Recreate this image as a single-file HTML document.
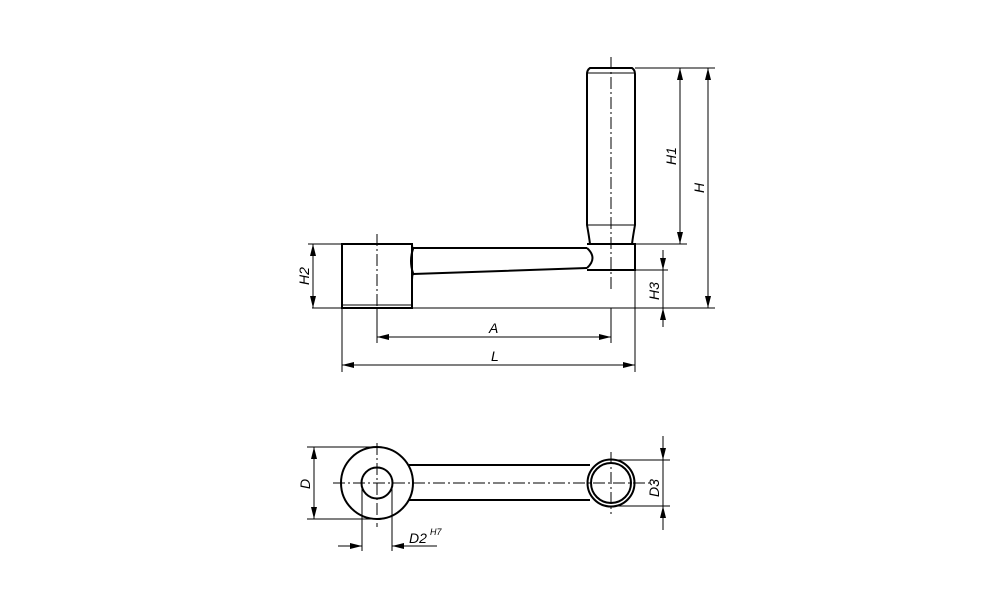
<!DOCTYPE html>
<html><head><style>body{margin:0;background:#fff}svg{display:block}text{font-family:"Liberation Sans",sans-serif;font-style:italic;font-size:14px;fill:#000}</style></head><body>
<svg width="1000" height="611" viewBox="0 0 1000 611" xmlns="http://www.w3.org/2000/svg">
<defs><marker id="a" markerWidth="12" markerHeight="6" refX="12" refY="3" orient="auto-start-reverse" markerUnits="userSpaceOnUse"><path d="M0,0 L12,3 L0,6z" fill="#000"/></marker></defs>
<g fill="none" stroke="#000" stroke-width="2">
<path d="M590,68 L632,68 Q635,70 635,74 L635,225 Q633,236 632,244 L590,244 Q589,236 587,225 L587,74 Q587,70 590,68Z"/>
<line x1="587" y1="225" x2="635" y2="225" stroke-width="1"/>
<line x1="587" y1="73" x2="635" y2="73" stroke-width="1"/>
<path d="M587,244 L635,244 L635,270 L587,270"/>
<path d="M587,248 Q598,258 587,268"/>
<path d="M413,248 L587,248 M413,274 L587,268"/>
<path d="M412,244 Q412,248 413,249 Q409,261 413,273 Q412,276 412,280"/>
<path d="M342,244 L412,244 L412,308 L342,308Z"/>
<line x1="342" y1="305" x2="412" y2="305" stroke-width="1"/>
<circle cx="377" cy="483" r="36"/>
<circle cx="377" cy="483" r="15.5"/>
<line x1="409" y1="465" x2="590" y2="465"/>
<line x1="409" y1="500" x2="590" y2="500"/>
<circle cx="611" cy="483" r="23.5" fill="#fff"/>
<circle cx="611" cy="483" r="20"/>
</g>
<g fill="none" stroke="#000" stroke-width="1">
<line x1="312" y1="308" x2="715" y2="308"/>
<line x1="635" y1="68" x2="715" y2="68"/>
<line x1="635" y1="244" x2="687" y2="244"/>
<line x1="635" y1="270" x2="668" y2="270"/>
<line x1="308" y1="244" x2="342" y2="244"/>
<line x1="342" y1="308" x2="342" y2="372"/>
<line x1="635" y1="270" x2="635" y2="372"/>
<line x1="377" y1="308" x2="377" y2="343"/>
<line x1="611" y1="308" x2="611" y2="343"/>
<line x1="680" y1="68" x2="680" y2="244" marker-start="url(#a)" marker-end="url(#a)"/>
<line x1="708" y1="68" x2="708" y2="308" marker-start="url(#a)" marker-end="url(#a)"/>
<line x1="313" y1="244" x2="313" y2="308" marker-start="url(#a)" marker-end="url(#a)"/>
<line x1="663" y1="250" x2="663" y2="270" marker-end="url(#a)"/>
<line x1="663" y1="327" x2="663" y2="308" marker-end="url(#a)"/>
<line x1="663" y1="270" x2="663" y2="308"/>
<line x1="377" y1="337" x2="611" y2="337" marker-start="url(#a)" marker-end="url(#a)"/>
<line x1="342" y1="365" x2="635" y2="365" marker-start="url(#a)" marker-end="url(#a)"/>
<g stroke-dasharray="12,3,2,3">
<line x1="611" y1="57" x2="611" y2="290"/>
<line x1="377" y1="234" x2="377" y2="318"/>
<line x1="333" y1="483" x2="655" y2="483"/>
<line x1="377" y1="443" x2="377" y2="527"/>
<line x1="611" y1="452" x2="611" y2="514"/>
</g>
<line x1="307" y1="447" x2="377" y2="447"/>
<line x1="307" y1="519" x2="377" y2="519"/>
<line x1="314" y1="447" x2="314" y2="519" marker-start="url(#a)" marker-end="url(#a)"/>
<line x1="611" y1="460" x2="670" y2="460"/>
<line x1="611" y1="506" x2="670" y2="506"/>
<line x1="663" y1="436" x2="663" y2="460" marker-end="url(#a)"/>
<line x1="663" y1="530" x2="663" y2="506" marker-end="url(#a)"/>
<line x1="663" y1="460" x2="663" y2="506"/>
<line x1="362" y1="483" x2="362" y2="551"/>
<line x1="392" y1="483" x2="392" y2="551"/>
<line x1="338" y1="546" x2="362" y2="546" marker-end="url(#a)"/>
<line x1="437" y1="546" x2="392" y2="546" marker-end="url(#a)"/>
</g>
<text x="489" y="333">A</text>
<text x="491" y="361">L</text>
<text transform="translate(676,165) rotate(-90)">H1</text>
<text transform="translate(704,193) rotate(-90)">H</text>
<text transform="translate(309,285) rotate(-90)">H2</text>
<text transform="translate(659,300) rotate(-90)">H3</text>
<text transform="translate(310,489) rotate(-90)">D</text>
<text transform="translate(659,497) rotate(-90)">D3</text>
<text x="409" y="543">D2</text>
<text x="430" y="535" style="font-size:9px">H7</text>
</svg>
</body></html>
